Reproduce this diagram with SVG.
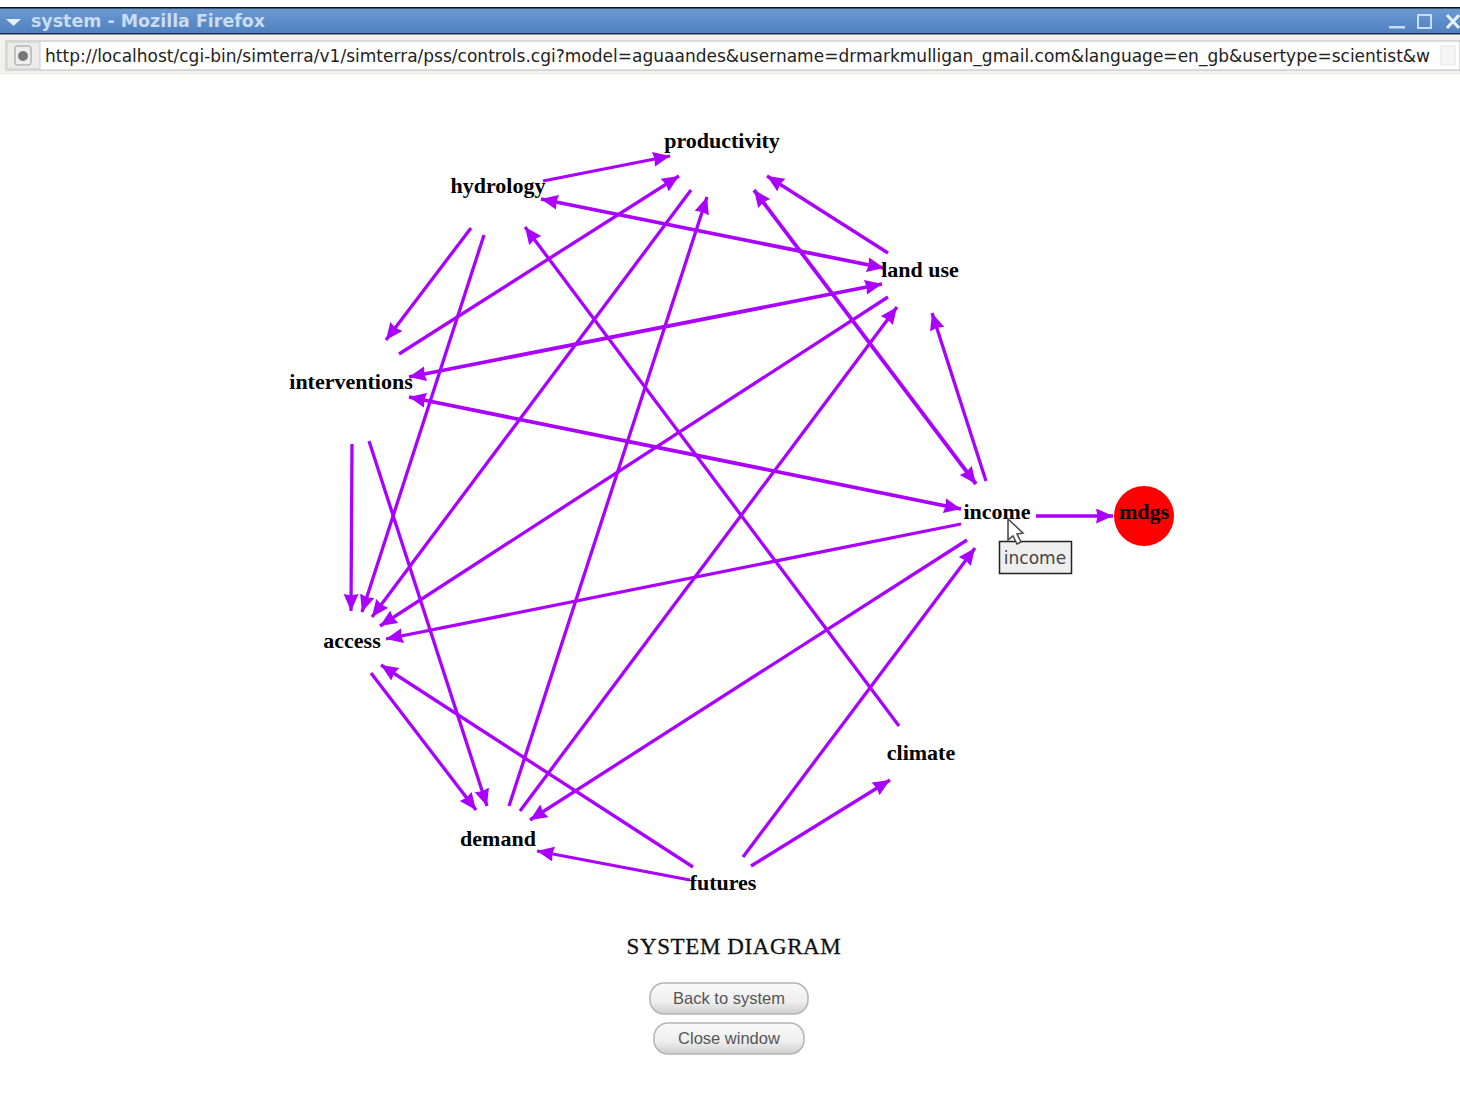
<svg xmlns="http://www.w3.org/2000/svg" width="1460" height="1112" viewBox="0 0 1460 1112">
<style>
.n{font-family:"Liberation Serif",serif;font-weight:bold;font-size:22px;fill:#000;text-anchor:middle}
.e line{stroke:#aa00ff;stroke-width:3.300;marker-end:url(#a)}
.e line.b{marker-start:url(#a);stroke-width:3.800}
.ui{font-family:"DejaVu Sans",sans-serif}
.btn{fill:url(#bg);stroke:#b4b4b4;stroke-width:1.500}
.bt{font-family:"Liberation Sans",sans-serif;font-size:16.500px;fill:#555;text-anchor:middle}
</style>
<defs>
<marker id="a" markerUnits="userSpaceOnUse" markerWidth="19" markerHeight="16" refX="17" refY="7.500" orient="auto-start-reverse"><path d="M0 0L17 7.500L0 15L1.500 7.500Z" fill="#aa00ff"/></marker>
<linearGradient id="tb" x1="0" y1="0" x2="0" y2="1"><stop offset="0" stop-color="#6d9bd3"/><stop offset="1" stop-color="#4f80bf"/></linearGradient>
<linearGradient id="bg" x1="0" y1="0" x2="0" y2="1"><stop offset="0" stop-color="#fafafa"/><stop offset=".6" stop-color="#eeeeee"/><stop offset="1" stop-color="#cfcfcf"/></linearGradient>
</defs>
<rect width="1460" height="1112" fill="#fff"/>
<g id="chrome">
<rect x="0" y="7" width="1460" height="27" fill="url(#tb)"/>
<rect x="0" y="7" width="1460" height="1.500" fill="#111"/>
<rect x="0" y="33" width="1460" height="1.500" fill="#1d2c44"/>
<path d="M6 19L21 19L13.500 26Z" fill="#e8f0fa"/>
<text class="ui" x="31" y="27" font-size="17" font-weight="bold" fill="#c9dcf3" textLength="234" lengthAdjust="spacingAndGlyphs">system - Mozilla Firefox</text>
<rect x="1389" y="26" width="16" height="2.500" fill="#c9dcf3"/>
<rect x="1418" y="15" width="13" height="13" fill="none" stroke="#c9dcf3" stroke-width="2"/>
<path d="M1447 15L1459 28M1459 15L1447 28" stroke="#e8f0fa" stroke-width="3"/>
<rect x="0" y="35" width="1460" height="40" fill="#f1f1ef"/>
<rect x="6" y="41" width="1454" height="29" fill="#fff" stroke="#bbb"/>
<rect x="7" y="42" width="33" height="27" fill="#ececec" stroke="#ccc"/>
<rect x="15" y="46" width="16" height="19" rx="2" fill="#eee" stroke="#999"/>
<circle cx="23" cy="56" r="5" fill="#777"/>
<text class="ui" x="45" y="62" font-size="17" fill="#222" textLength="1385" lengthAdjust="spacingAndGlyphs">http://localhost/cgi-bin/simterra/v1/simterra/pss/controls.cgi?model=aguaandes&amp;username=drmarkmulligan_gmail.com&amp;language=en_gb&amp;usertype=scientist&amp;w</text>
<rect x="1441" y="46" width="14" height="19" fill="#f6f6f6" stroke="#e4e4e4"/>
</g>
<g id="connectors" class="e">
<line x1="543" y1="181" x2="670" y2="156"/>
<line x1="399" y1="354" x2="679" y2="176"/>
<line x1="691" y1="190" x2="372" y2="617"/>
<line x1="509" y1="806" x2="707" y2="197"/>
<line x1="888" y1="253" x2="767" y2="176"/>
<line class="b" x1="754" y1="190" x2="976" y2="484"/>
<line class="b" x1="541" y1="199" x2="884" y2="268"/>
<line x1="471" y1="228" x2="386" y2="340"/>
<line x1="484" y1="235" x2="362" y2="612"/>
<line class="b" x1="409" y1="377" x2="882" y2="284"/>
<line class="b" x1="409" y1="397" x2="961" y2="509"/>
<line x1="352" y1="444" x2="351" y2="611"/>
<line x1="369" y1="441" x2="487" y2="806"/>
<line x1="888" y1="297" x2="380" y2="626"/>
<line x1="520" y1="811" x2="897" y2="307"/>
<line x1="986" y1="481" x2="932" y2="313"/>
<line x1="1036" y1="516" x2="1113" y2="516"/>
<line x1="961" y1="524" x2="386" y2="639"/>
<line x1="967" y1="540" x2="530" y2="820"/>
<line x1="371" y1="673" x2="476" y2="810"/>
<line x1="693" y1="867" x2="381" y2="665"/>
<line x1="690" y1="880" x2="537" y2="851"/>
<line x1="743" y1="857" x2="975" y2="548"/>
<line x1="751" y1="866" x2="890" y2="780"/>
<line x1="899" y1="726" x2="525" y2="227"/>
</g>
<g id="productivity"><text class="n" x="722" y="148">productivity</text></g>
<g id="hydrology"><text class="n" x="498" y="193">hydrology</text></g>
<g id="landuse"><text class="n" x="920" y="277">land use</text></g>
<g id="interventions"><text class="n" x="351" y="389">interventions</text></g>
<g id="income"><text class="n" x="997" y="519">income</text></g>
<g id="mdgs"><circle cx="1144" cy="516" r="30" fill="#ff0000"/><text class="n" x="1144" y="519">mdgs</text></g>
<g id="access"><text class="n" x="352" y="648">access</text></g>
<g id="climate"><text class="n" x="921" y="760">climate</text></g>
<g id="demand"><text class="n" x="498" y="846">demand</text></g>
<g id="futures"><text class="n" x="723" y="890">futures</text></g>
<g id="tooltip">
<rect x="999.500" y="541.500" width="72" height="32" fill="#eeeeee" stroke="#222" stroke-width="1.500"/>
<text class="ui" x="1035" y="564" font-size="17" fill="#444" text-anchor="middle">income</text>
<path d="M1008 519L1008 540L1013 536L1017 544L1021 542L1017 534L1023 533Z" fill="#fff" stroke="#444" stroke-width="1.500"/>
</g>
<text x="734" y="954" font-family="Liberation Serif,serif" font-size="23" fill="#111" text-anchor="middle" letter-spacing=".6" stroke="#111" stroke-width=".3">SYSTEM DIAGRAM</text>
<g id="back"><rect x="650" y="983" width="158" height="31" rx="14" class="btn"/><text class="bt" x="729" y="1004">Back to system</text></g>
<g id="close"><rect x="654" y="1023" width="150" height="31" rx="14" class="btn"/><text class="bt" x="729" y="1044">Close window</text></g>
</svg>
